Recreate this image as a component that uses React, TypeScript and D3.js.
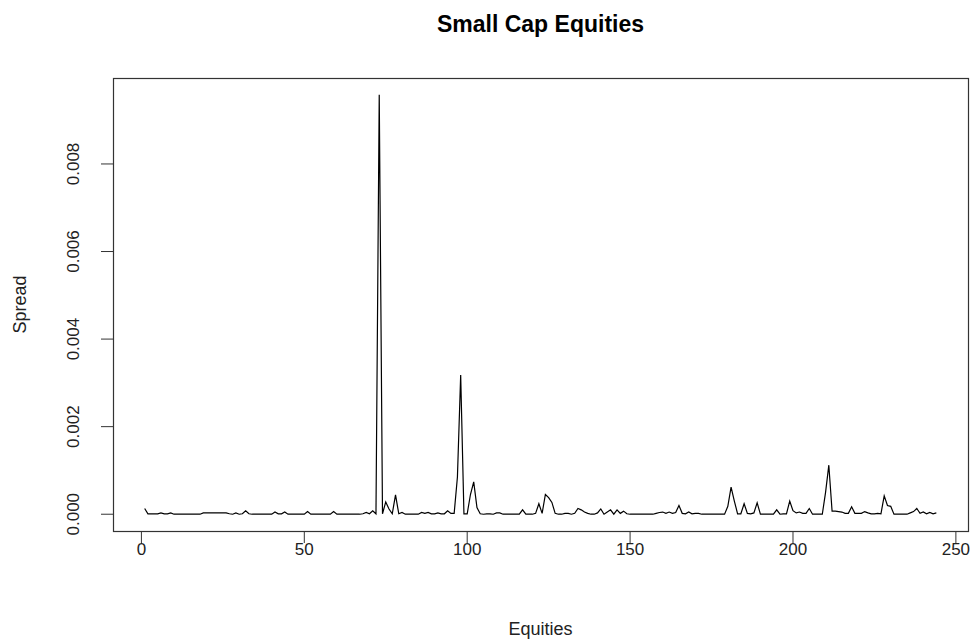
import React from "react";
import * as d3 from "d3";

// spread per equity (equities are numbered 1..n)
const spread: number[] = [
  0.00013, 0.00001, 0.00001, 0.00001, 0.00001, 0.00003, 0.00001, 0.00001, 0.00003, 0,
  0, 0, 0, 0, 0, 0, 0, 0, 0.00003, 0.00003,
  0.00003, 0.00003, 0.00003, 0.00003, 0.00003, 0.00003, 0.00001, 0, 0.00003, 0,
  0.00001, 0.00008, 0.00001, 0, 0, 0, 0, 0, 0, 0,
  0.00005, 0.00001, 0.00001, 0.00005, 0, 0, 0, 0, 0, 0,
  0.00006, 0, 0, 0, 0, 0, 0, 0, 0.00006, 0,
  0, 0, 0, 0, 0, 0, 0, 0.00001, 0.00004, 0.00001,
  0.00008, 0.00001, 0.00958, 0.00001, 0.00028, 0.00012, 0.00001, 0.00044, 0.00001, 0.00004,
  0, 0, 0, 0, 0, 0.00004, 0.00002, 0.00004, 0.00001, 0.00001,
  0.00003, 0.00001, 0.00001, 0.00008, 0.00002, 0.00002, 0.00085, 0.00318, 0.00001, 0.00001,
  0.00045, 0.00074, 0.00015, 0.00001, 0, 0.00001, 0.00001, 0, 0.00003, 0.00003,
  0, 0, 0, 0, 0, 0, 0.0001, 0, 0, 0,
  0.00002, 0.00024, 0.00002, 0.00045, 0.00038, 0.00027, 0.00002, 0, 0, 0.00002,
  0.00002, 0, 0.00002, 0.00013, 0.0001, 0.00005, 0.00002, 0, 0, 0.00003,
  0.00012, 0, 0.00005, 0.0001, 0, 0.0001, 0.00002, 0.00007, 0.00001, 0,
  0, 0, 0, 0, 0, 0, 0, 0.00002, 0.00004, 0.00005,
  0.00002, 0.00005, 0.00002, 0.00004, 0.0002, 0.00002, 0.00001, 0.00005, 0.00001, 0.00002,
  0.00002, 0, 0, 0, 0, 0, 0, 0, 0, 0.00018,
  0.00062, 0.0003, 0.00001, 0.00001, 0.00024, 0.00002, 0.00001, 0.00003, 0.00026, 0,
  0, 0, 0, 0, 0.0001, 0, 0.00001, 0.00001, 0.0003, 0.00008,
  0.00003, 0.00005, 0.00002, 0.00002, 0.00013, 0, 0, 0, 0, 0.0005,
  0.00112, 0.00007, 0.00007, 0.00006, 0.00005, 0.00002, 0.00002, 0.00017, 0.00002, 0.00002,
  0.00002, 0.00006, 0.00003, 0.00001, 0.00001, 0.00002, 0.00001, 0.00042, 0.0002, 0.00018,
  0, 0, 0, 0, 0, 0.00003, 0.00006, 0.00013, 0.00002, 0.00005,
  0.00001, 0.00004, 0.00001, 0.00003,
];

const xTicks = [0, 50, 100, 150, 200, 250];
const yTicks = [0, 0.002, 0.004, 0.006, 0.008];

const title = "Small Cap Equities";
const xLabel = "Equities";
const yLabel = "Spread";

const width = 974;
const height = 640;
const plot = { left: 113, right: 968, top: 78, bottom: 531 };
const font = "'Liberation Sans', Arial, sans-serif";

// R style axis range: data range padded by 4% each side
const pad = (lo: number, hi: number): [number, number] => {
  const r = hi - lo;
  return [lo - 0.04 * r, hi + 0.04 * r];
};

const App = () => {
  const n = spread.length;
  const pts = spread.map((v, i) => [i + 1, v] as [number, number]);

  const xScale = d3.scaleLinear().domain(pad(1, n)).range([plot.left, plot.right]);
  const [ymin, ymax] = d3.extent(spread) as [number, number];
  const yScale = d3.scaleLinear().domain(pad(ymin, ymax)).range([plot.bottom, plot.top]);

  const line = d3
    .line<[number, number]>()
    .x((d) => xScale(d[0]))
    .y((d) => yScale(d[1]));

  const fmt = d3.format(".3f");
  const cx = (plot.left + plot.right) / 2;
  const cy = (plot.top + plot.bottom) / 2;

  return (
    <svg
      width={width}
      height={height}
      style={{ position: "absolute", left: 0, top: 0, background: "#fff" }}
    >
      <text
        x={cx}
        y={32}
        textAnchor="middle"
        fontFamily={font}
        fontWeight="bold"
        fontSize={23}
      >
        {title}
      </text>

      <path d={line(pts) || ""} fill="none" stroke="#000" strokeWidth={1.2} />

      <rect
        x={plot.left + 0.5}
        y={plot.top + 0.5}
        width={plot.right - plot.left}
        height={plot.bottom - plot.top}
        fill="none"
        stroke="#333"
        strokeWidth={1.2}
      />

      {/* x axis */}
      <g fontFamily={font} fontSize={17} fill="#222">
        {xTicks.map((t) => (
          <g key={t}>
            <line
              x1={xScale(t)}
              x2={xScale(t)}
              y1={plot.bottom}
              y2={plot.bottom + 12}
              stroke="#333"
            />
            <text x={xScale(t)} y={555} textAnchor="middle">
              {t}
            </text>
          </g>
        ))}
      </g>

      {/* y axis */}
      <g fontFamily={font} fontSize={17} fill="#222">
        {yTicks.map((t) => (
          <g key={t}>
            <line
              x1={plot.left - 12}
              x2={plot.left}
              y1={yScale(t)}
              y2={yScale(t)}
              stroke="#333"
            />
            <text
              transform={`translate(79,${yScale(t)}) rotate(-90)`}
              textAnchor="middle"
            >
              {fmt(t)}
            </text>
          </g>
        ))}
      </g>

      <text
        x={cx}
        y={635}
        textAnchor="middle"
        fontFamily={font}
        fontSize={18}
        fill="#222"
      >
        {xLabel}
      </text>
      <text
        transform={`translate(26,${cy}) rotate(-90)`}
        textAnchor="middle"
        fontFamily={font}
        fontSize={18}
        fill="#222"
      >
        {yLabel}
      </text>
    </svg>
  );
};

export default App;
